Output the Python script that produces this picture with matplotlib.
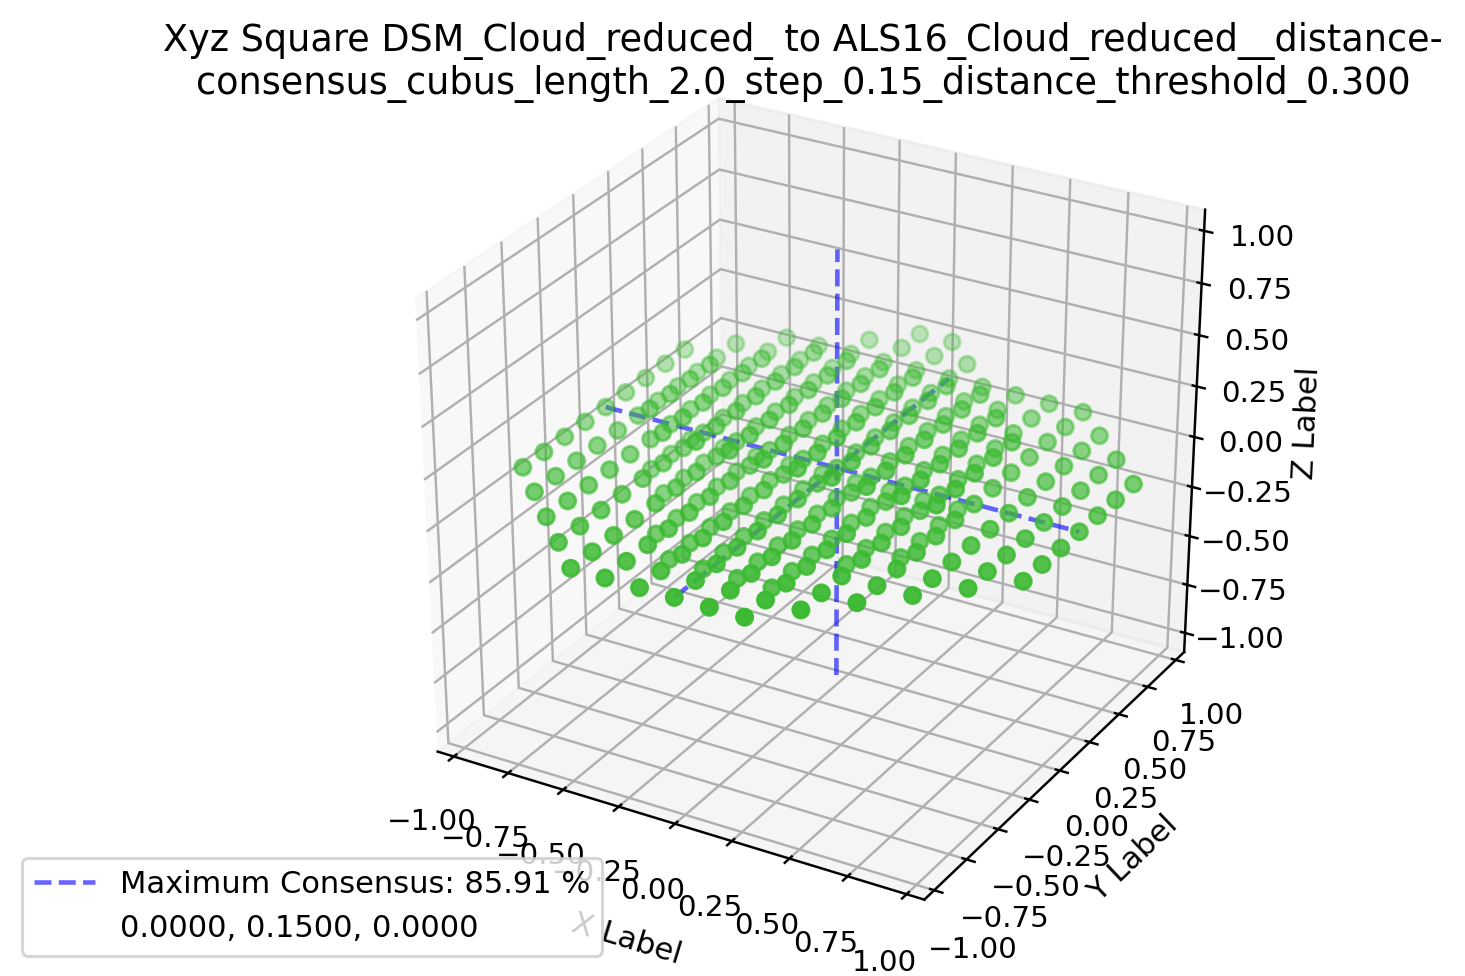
from mpl_toolkits.mplot3d import Axes3D
from matplotlib import pyplot as plt
import numpy as np

tick_vals = [-1.0, -0.75, -0.5, -0.25, 0.0, 0.25, 0.5, 0.75, 1.0]

# grid points: y value -> x values in that row
# main layer, z = 0
rows_mid = {
    -1.05: [-0.45, -0.30, -0.15, 0.0, 0.15, 0.30],
    -0.90: [-0.60, -0.45, -0.30, -0.15, 0.0, 0.15, 0.30, 0.45],
    -0.75: [-0.75, -0.60, -0.45, -0.30, -0.15, 0.0, 0.15, 0.30, 0.45, 0.60],
    -0.60: [-0.90, -0.75, -0.60, -0.45, -0.30, -0.15, 0.0, 0.15, 0.30, 0.45, 0.60, 0.75],
    -0.45: [-1.05, -0.90, -0.75, -0.60, -0.45, -0.30, -0.15, 0.0, 0.15, 0.30, 0.45, 0.60, 0.75, 0.90],
    -0.30: [-1.05, -0.90, -0.75, -0.60, -0.45, -0.30, -0.15, 0.0, 0.15, 0.30, 0.45, 0.60, 0.75, 0.90, 1.05],
    -0.15: [-1.05, -0.90, -0.75, -0.60, -0.45, -0.30, -0.15, 0.0, 0.15, 0.30, 0.45, 0.60, 0.75, 0.90, 1.05],
    0.0: [-1.05, -0.90, -0.75, -0.60, -0.45, -0.30, -0.15, 0.0, 0.15, 0.30, 0.45, 0.60, 0.75, 0.90, 1.05],
    0.15: [-1.05, -0.90, -0.75, -0.60, -0.45, -0.30, -0.15, 0.0, 0.15, 0.30, 0.45, 0.60, 0.75, 0.90, 1.05],
    0.30: [-1.05, -0.90, -0.75, -0.60, -0.45, -0.30, -0.15, 0.0, 0.15, 0.30, 0.45, 0.60, 0.75, 0.90, 1.05],
    0.45: [-1.05, -0.90, -0.75, -0.60, -0.45, -0.30, -0.15, 0.0, 0.15, 0.30, 0.45, 0.60, 0.75, 0.90, 1.05],
    0.60: [-1.05, -0.90, -0.75, -0.60, -0.45, -0.30, -0.15, 0.0, 0.15, 0.30, 0.45, 0.60, 0.75, 0.90, 1.05],
    0.75: [-1.05, -0.90, -0.75, -0.60, -0.45, -0.30, -0.15, 0.0, 0.15, 0.30, 0.45, 0.60, 0.75, 0.90],
    0.90: [-0.90, -0.75, -0.60, -0.45, -0.30, -0.15, 0.0, 0.15, 0.30, 0.45, 0.60, 0.75],
    1.05: [-0.75, -0.60, -0.45, -0.30, -0.15, 0.0, 0.15, 0.30, 0.45, 0.60],
    1.20: [-0.45, -0.30, -0.15, 0.0],
    1.35: [-0.30, -0.15],
}

# layer below, z = -0.15
rows_low = {
    -0.60: [-0.30, -0.15, 0.0, 0.15],
    -0.45: [-0.45, -0.30, -0.15, 0.0, 0.15],
    -0.30: [-0.45, -0.30, -0.15, 0.0, 0.15, 0.30],
    -0.15: [-0.60, -0.45, -0.30, -0.15, 0.0, 0.15, 0.30, 0.45],
    0.0: [-0.75, -0.60, -0.45, -0.30, -0.15, 0.0, 0.15, 0.30, 0.45],
    0.15: [-0.75, -0.60, -0.45, -0.30, -0.15, 0.0, 0.15, 0.30, 0.45],
    0.30: [-0.75, -0.60, -0.45, -0.30, -0.15, 0.0, 0.15, 0.30, 0.45],
}

# layer above, z = 0.15
rows_high = {
    -0.15: [-0.60, -0.45, -0.30, -0.15, 0.0, 0.15, 0.30, 0.45, 0.60],
    0.0: [-0.75, -0.60, -0.45, -0.30, -0.15, 0.0, 0.15, 0.30, 0.45, 0.60],
    0.15: [-0.75, -0.60, -0.45, -0.30, -0.15, 0.0, 0.15, 0.30, 0.45, 0.60],
    0.30: [-0.75, -0.60, -0.45, -0.30, -0.15, 0.0, 0.15, 0.30, 0.45, 0.60],
    0.45: [-0.75, -0.60, -0.45, -0.30, -0.15, 0.0, 0.15, 0.30, 0.45, 0.60],
    0.60: [-0.60, -0.45, -0.30, -0.15, 0.0, 0.15, 0.30, 0.45],
    0.75: [-0.45, -0.30, -0.15, 0.0, 0.15, 0.30],
}

consensus_y = 0.15
line_x = [-1.05, 1.05]
line_y = [-1.05, 1.05]
line_z = [-1.05, 1.05]

title = ("Xyz Square DSM_Cloud_reduced_ to ALS16_Cloud_reduced__distance-\n"
         "consensus_cubus_length_2.0_step_0.15_distance_threshold_0.300")

xs = []
ys = []
zs = []
for level, rows in ((0.0, rows_mid), (-0.15, rows_low), (0.15, rows_high)):
    for y, row in rows.items():
        for x in row:
            xs.append(x)
            ys.append(y)
            zs.append(level)

fig = plt.figure(figsize=(1465 / 220, 976 / 220), dpi=220)
ax = fig.add_axes([0.2365, 0.061, 0.626, 0.864], projection='3d')
ax.set_box_aspect((1, 1, 1), zoom=1.03)
ax.apply_aspect = lambda position=None: None  # keep the box a bit wider than tall

ax.scatter(xs, ys, zs, c='#3cba32', s=27)

ax.plot(line_x, [consensus_y] * 2, [0, 0], 'b--', alpha=0.6,
        label='Maximum Consensus: 85.91 %')
ax.plot([0, 0], line_y, [0, 0], 'b--', alpha=0.6)
ax.plot([0, 0], [consensus_y] * 2, line_z, 'b--', alpha=0.6)
ax.plot([], [], ' ', label='0.0000, 0.1500, 0.0000')

ax.set_xlim(-1.075, 1.075)
ax.set_ylim(-1.075, 1.075)
ax.set_zlim(-1.10, 1.10)
ax.set_xticks(tick_vals)
ax.set_yticks(tick_vals)
ax.set_zticks(tick_vals)
ax.tick_params(labelsize=9.6)

ax.set_xlabel('X Label')
ax.set_ylabel('Y Label', labelpad=2)
ax.set_zlabel('Z Label', labelpad=2)

fig.text(0.548, 0.894, title, ha='center', va='bottom', fontsize=12)
fig.legend(loc='lower left', bbox_to_anchor=(0.015, 0.021), borderaxespad=0, fontsize=10)

plt.savefig('out.png', dpi=220)
